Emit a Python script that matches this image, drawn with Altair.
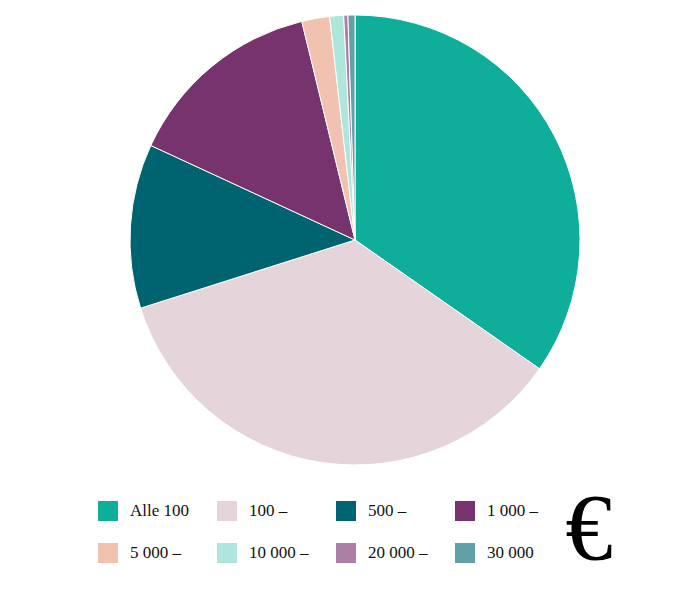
import altair as alt
import pandas as pd

categories = ["Alle 100", "100 –", "500 –", "1 000 –", "5 000 –", "10 000 –", "20 000 –", "30 000"]
shares = [34.7, 35.4, 11.8, 14.3, 2.0, 1.0, 0.3, 0.5]
colors = ["#0fae9b", "#e5d5db", "#006470", "#76336e", "#f2c2b0", "#aee5dd", "#ab7fa8", "#60a1a6"]

df = pd.DataFrame({"cat": categories, "share": shares, "idx": list(range(len(categories)))})

pie = alt.Chart(df).mark_arc(radius=225, stroke="white", strokeWidth=1).encode(
    theta=alt.Theta("share:Q", stack=True),
    order=alt.Order("idx:Q"),
    color=alt.Color(
        "cat:N",
        scale=alt.Scale(domain=categories, range=colors),
        legend=alt.Legend(
            title=None,
            orient="none",
            direction="horizontal",
            legendX=98,
            legendY=501,
            columns=4,
            symbolType="square",
            symbolSize=400,
            symbolStrokeWidth=0,
            labelFont="Liberation Serif",
            labelFontSize=17,
            labelColor="#111",
            labelOffset=12,
            columnPadding=27,
            rowPadding=22,
            gridAlign="all",
        ),
    ),
    x=alt.value(355),
    y=alt.value(240),
)

euro = alt.Chart(pd.DataFrame({"t": ["€"]})).mark_text(
    font="Liberation Serif", fontSize=95, color="black", align="center", baseline="middle"
).encode(text="t:N", x=alt.value(589), y=alt.value(531))

chart = alt.layer(pie, euro).properties(
    width=700, height=599, padding=0, autosize=alt.AutoSizeParams(type="none")
).configure_view(stroke=None)

chart.save("out.html", embed_options={"renderer": "svg", "actions": False})
